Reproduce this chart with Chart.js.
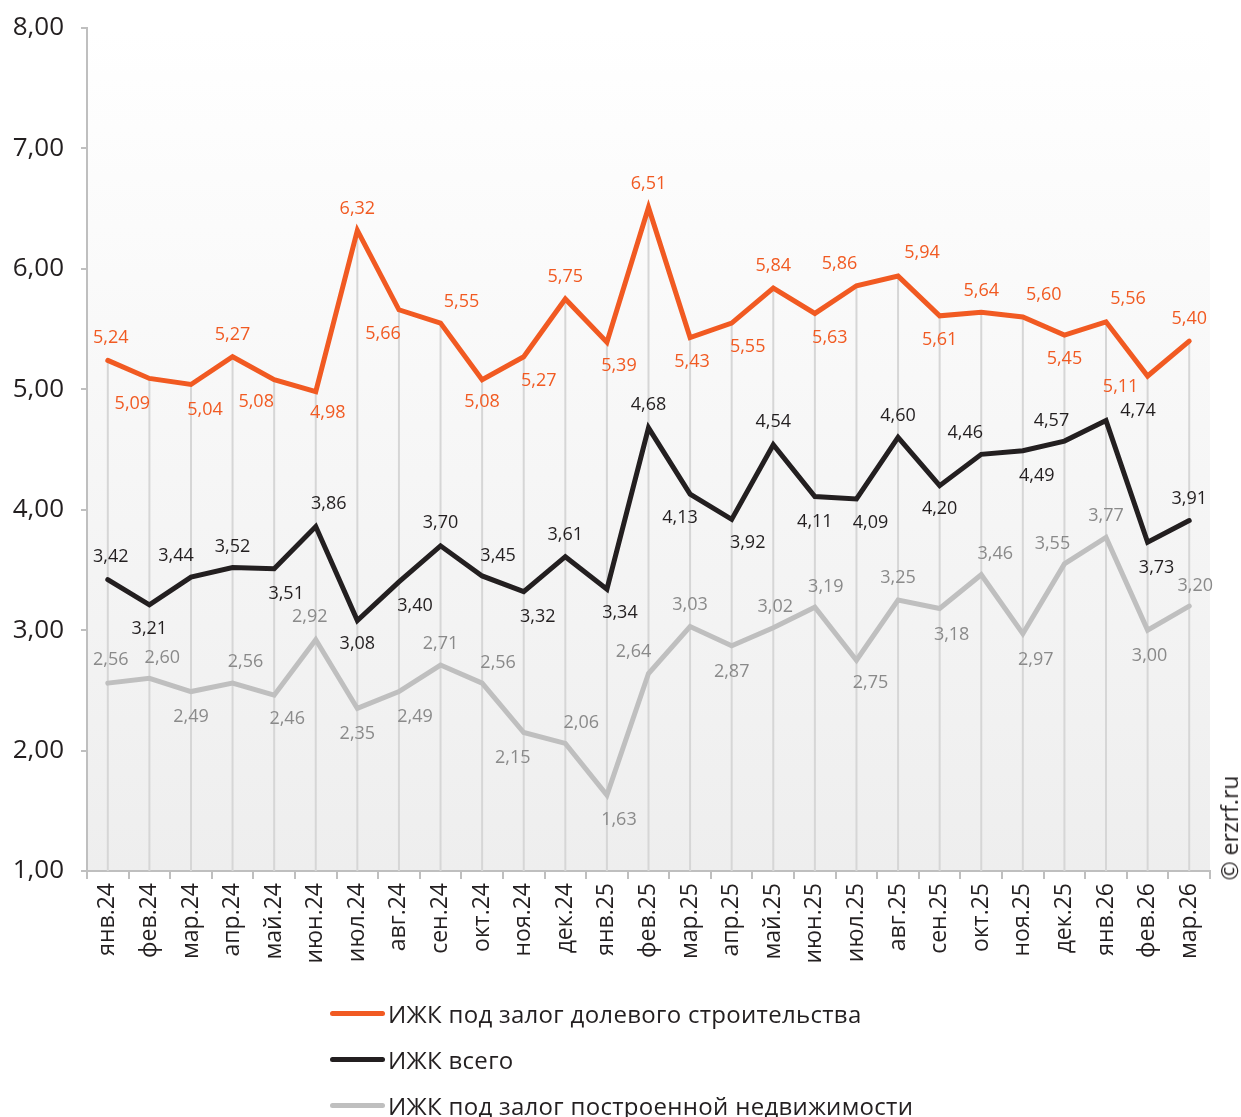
<!DOCTYPE html>
<html lang="ru">
<head>
<meta charset="UTF-8">
<title>ИЖК</title>
<script src="https://cdn.jsdelivr.net/npm/chart.js"></script>
<style>
    body {
        margin: 0;
        background: #fff;
        font-family: "Open Sans", sans-serif;
    }
    .wrap {
        position: relative;
        width: 1241px;
        height: 1117px;
        overflow: hidden;
    }
    #chart {
        position: absolute;
        left: 0;
        top: 0;
    }
    .legend {
        position: absolute;
        left: 330px;
        top: 990px;
    }
    .legend-row {
        display: flex;
        align-items: center;
        height: 46px;
        font-size: 24px;
        letter-spacing: 0.3px;
        color: #231f20;
    }
    .legend-line {
        width: 55px;
        height: 5px;
        border-radius: 3px;
        margin-right: 3px;
    }
    .copy {
        position: absolute;
        left: 1229px;
        top: 828px;
        transform: translate(-50%, -50%) rotate(-90deg);
        font-size: 23px;
        color: #231f20;
        white-space: nowrap;
    }
</style>
</head>
<body>
<div class="wrap">
    <canvas id="chart" width="1241" height="1117"></canvas>
    <div class="legend" id="legend"></div>
    <div class="copy">© erzrf.ru</div>
</div>
<script>
    const months = ['янв.24', 'фев.24', 'мар.24', 'апр.24', 'май.24', 'июн.24', 'июл.24', 'авг.24', 'сен.24',
        'окт.24', 'ноя.24', 'дек.24', 'янв.25', 'фев.25', 'мар.25', 'апр.25', 'май.25', 'июн.25', 'июл.25',
        'авг.25', 'сен.25', 'окт.25', 'ноя.25', 'дек.25', 'янв.26', 'фев.26', 'мар.26'];

    const shareConstr = [5.24, 5.09, 5.04, 5.27, 5.08, 4.98, 6.32, 5.66, 5.55, 5.08, 5.27, 5.75, 5.39, 6.51,
        5.43, 5.55, 5.84, 5.63, 5.86, 5.94, 5.61, 5.64, 5.60, 5.45, 5.56, 5.11, 5.40];
    const total = [3.42, 3.21, 3.44, 3.52, 3.51, 3.86, 3.08, 3.40, 3.70, 3.45, 3.32, 3.61, 3.34, 4.68,
        4.13, 3.92, 4.54, 4.11, 4.09, 4.60, 4.20, 4.46, 4.49, 4.57, 4.74, 3.73, 3.91];
    const builtProp = [2.56, 2.60, 2.49, 2.56, 2.46, 2.92, 2.35, 2.49, 2.71, 2.56, 2.15, 2.06, 1.63, 2.64,
        3.03, 2.87, 3.02, 3.19, 2.75, 3.25, 3.18, 3.46, 2.97, 3.55, 3.77, 3.00, 3.20];

    const seriesNames = ['ИЖК под залог долевого строительства', 'ИЖК всего', 'ИЖК под залог построенной  недвижимости'];
    const yTicks = [1, 2, 3, 4, 5, 6, 7, 8];

    // label offsets [dx, dy] from each point
    const offOrange = [[3,-23],[-17,25],[14,25],[0,-22],[-18,22],[12,21],[0,-21],[-16,24],[21,-21],[0,22],
        [15,24],[0,-22],[12,24],[0,-24],[2,24],[16,24],[0,-22],[15,24],[-17,-22],[24,-23],[0,24],[0,-21],
        [21,-22],[0,24],[22,-23],[-27,11],[0,-22]];
    const offBlack = [[3,-23],[0,24],[-15,-21],[0,-21],[12,25],[13,-23],[0,23],[16,24],[0,-23],[16,-20],
        [14,25],[0,-22],[13,24],[0,-23],[-10,24],[16,24],[0,-23],[0,25],[14,24],[0,-22],[0,23],[-16,-21],
        [14,25],[-13,-20],[32,-10],[9,26],[0,-22]];
    const offGray = [[3,-23],[13,-20],[0,25],[13,-21],[13,24],[-6,-23],[0,25],[16,25],[0,-21],[16,-20],
        [-11,25],[16,-20],[12,25],[-15,-22],[0,-22],[0,26],[2,-21],[11,-20],[14,23],[0,-22],[12,26],[14,-21],
        [13,26],[-12,-20],[0,-22],[2,26],[6,-20]];

    const colOrange = '#f15a22';
    const colBlack = '#231f20';
    const colGray = '#bfbfbf';

    const fmt = v => v.toFixed(2).replace('.', ',');

    const bgPlugin = {
        id: 'bg',
        beforeDraw(chart) {
            const {ctx, chartArea: a} = chart;
            const g = ctx.createLinearGradient(0, a.top, 0, a.bottom);
            g.addColorStop(0, '#ffffff');
            g.addColorStop(1, '#eeeeee');
            ctx.save();
            ctx.fillStyle = g;
            ctx.fillRect(a.left, a.top, a.right - a.left, a.bottom - a.top);
            ctx.restore();
        },
        beforeDatasetsDraw(chart) {
            // drop lines from the axis up to the top series
            const {ctx, chartArea: a, scales} = chart;
            ctx.save();
            ctx.strokeStyle = '#d6d6d6';
            ctx.lineWidth = 2;
            months.forEach((m, i) => {
                const x = scales.x.getPixelForValue(i);
                const y = scales.y.getPixelForValue(Math.max(shareConstr[i], total[i], builtProp[i]));
                ctx.beginPath();
                ctx.moveTo(x, a.bottom);
                ctx.lineTo(x, y);
                ctx.stroke();
            });
            ctx.restore();
        }
    };

    const labelPlugin = {
        id: 'pointLabels',
        afterDatasetsDraw(chart) {
            const ctx = chart.ctx;
            const offs = [offOrange, offBlack, offGray];
            const colors = [colOrange, colBlack, '#8a8a8a'];
            ctx.save();
            ctx.font = '18px "Open Sans", sans-serif';
            ctx.textAlign = 'center';
            ctx.textBaseline = 'middle';
            chart.data.datasets.forEach((ds, d) => {
                const meta = chart.getDatasetMeta(d);
                ctx.fillStyle = colors[d];
                meta.data.forEach((pt, i) => {
                    const o = offs[d][i];
                    ctx.fillText(fmt(ds.data[i]), pt.x + o[0], pt.y + o[1]);
                });
            });
            ctx.restore();
        }
    };

    const lineStyle = color => ({
        borderColor: color,
        backgroundColor: color,
        borderWidth: 5,
        pointRadius: 0,
        tension: 0,
        borderCapStyle: 'round',
        fill: false
    });

    new Chart(document.getElementById('chart'), {
        type: 'line',
        data: {
            labels: months,
            datasets: [
                {label: seriesNames[0], data: shareConstr, ...lineStyle(colOrange)},
                {label: seriesNames[1], data: total, ...lineStyle(colBlack)},
                {label: seriesNames[2], data: builtProp, ...lineStyle(colGray)}
            ]
        },
        options: {
            responsive: false,
            animation: false,
            layout: {padding: {left: 0, top: 28, right: 31, bottom: 136}},
            plugins: {
                legend: {display: false},
                tooltip: {enabled: false}
            },
            scales: {
                x: {
                    offset: true,
                    grid: {offset: true, drawOnChartArea: false, color: '#bfbfbf', lineWidth: 2, tickLength: 8},
                    border: {color: '#bfbfbf', width: 2},
                    ticks: {
                        autoSkip: false, maxRotation: 90, minRotation: 90, padding: 4,
                        color: '#231f20', font: {family: '"Open Sans", sans-serif', size: 23}
                    },
                    afterFit: s => { s.height = 110; s.paddingLeft = 0; s.paddingRight = 0; }
                },
                y: {
                    min: 1,
                    max: 8,
                    afterBuildTicks: s => { s.ticks = yTicks.map(v => ({value: v})); },
                    grid: {drawOnChartArea: false, color: '#bfbfbf', lineWidth: 2, tickLength: 6},
                    border: {color: '#bfbfbf', width: 2},
                    ticks: {
                        padding: 17, color: '#231f20',
                        font: {family: '"Open Sans", sans-serif', size: 26},
                        callback: v => fmt(v)
                    },
                    afterFit: s => { s.width = 87; s.paddingTop = 0; s.paddingBottom = 0; }
                }
            }
        },
        plugins: [bgPlugin, labelPlugin]
    });

    const legend = document.getElementById('legend');
    [colOrange, colBlack, colGray].forEach((c, i) => {
        const row = document.createElement('div');
        row.className = 'legend-row';
        row.innerHTML = '<span class="legend-line" style="background:' + c + '"></span><span>' + seriesNames[i] + '</span>';
        legend.appendChild(row);
    });
</script>
</body>
</html>
